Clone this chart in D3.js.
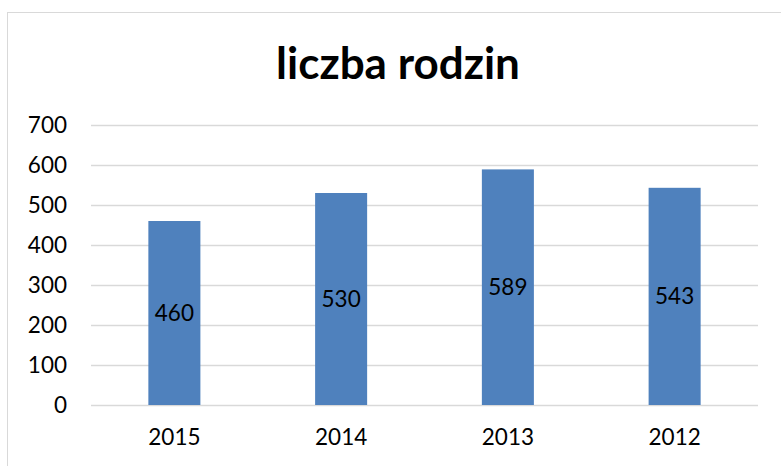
<!DOCTYPE html>
<html>
<head>
<meta charset="utf-8">
<style>
  body { margin: 0; background: #fff; }
  svg { display: block; font-family: Lato, "Open Sans", sans-serif; }
</style>
</head>
<body>
<div id="container"></div>
<script src="https://cdn.jsdelivr.net/npm/d3@7"></script>
<script>
// data
var years = ["2015", "2014", "2013", "2012"];
var families = [460, 530, 589, 543];
var yTicks = [0, 100, 200, 300, 400, 500, 600, 700];
var title = "liczba rodzin";

var W = 781, H = 466;

var svg = d3.select("#container")
  .append("svg")
    .attr("width", W)
    .attr("height", H);

// chart frame
svg.append("rect")
  .attr("x", 7.5).attr("y", 12.5)
  .attr("width", 800).attr("height", 500)
  .attr("fill", "#fff")
  .attr("stroke", "#d9d9d9");

var x = d3.scaleBand()
  .domain(years)
  .range([91, 758])
  .paddingInner(0.688)
  .paddingOuter(0.344);

var y = d3.scaleLinear()
  .domain([0, 700])
  .range([405, 125]);

// gridlines
svg.append("g")
  .selectAll("line")
  .data(yTicks)
  .enter()
  .append("line")
    .attr("x1", 91).attr("x2", 758)
    .attr("y1", function(d) { return Math.round(y(d)) + 0.5; })
    .attr("y2", function(d) { return Math.round(y(d)) + 0.5; })
    .attr("stroke", "#d9d9d9")
    .attr("stroke-width", 1.5);

// y labels
var yAxis = svg.append("g")
  .attr("transform", "translate(67,0)")
  .call(d3.axisLeft(y).tickValues(yTicks).tickSize(0).tickPadding(0));
yAxis.select(".domain").remove();
yAxis.selectAll("text")
  .attr("font-family", "Lato, sans-serif")
  .attr("font-size", 22.5)
  .attr("fill", "#000");

// x labels
var xAxis = svg.append("g")
  .attr("transform", "translate(0,405)")
  .call(d3.axisBottom(x).tickSize(0).tickPadding(24));
xAxis.select(".domain").remove();
xAxis.selectAll("text")
  .attr("font-family", "Lato, sans-serif")
  .attr("font-size", 22.5)
  .attr("fill", "#000");

var data = years.map(function(d, i) { return {year: d, value: families[i]}; });

// bars
svg.append("g")
  .selectAll("rect")
  .data(data)
  .enter()
  .append("rect")
    .attr("x", function(d) { return x(d.year); })
    .attr("y", function(d) { return y(d.value); })
    .attr("width", x.bandwidth())
    .attr("height", function(d) { return y(0) - y(d.value); })
    .attr("fill", "#4f81bd");

// value labels in the middle of each bar
svg.append("g")
  .selectAll("text")
  .data(data)
  .enter()
  .append("text")
    .attr("x", function(d) { return x(d.year) + x.bandwidth() / 2; })
    .attr("y", function(d) { return (y(d.value) + y(0)) / 2; })
    .attr("dy", "0.35em")
    .attr("text-anchor", "middle")
    .attr("font-size", 22.5)
    .attr("fill", "#000")
    .text(function(d) { return d.value; });

// title
svg.append("text")
  .attr("x", 398)
  .attr("y", 79)
  .attr("text-anchor", "middle")
  .attr("font-size", 44)
  .attr("font-weight", "bold")
  .attr("fill", "#000")
  .text(title);
</script>
</body>
</html>
